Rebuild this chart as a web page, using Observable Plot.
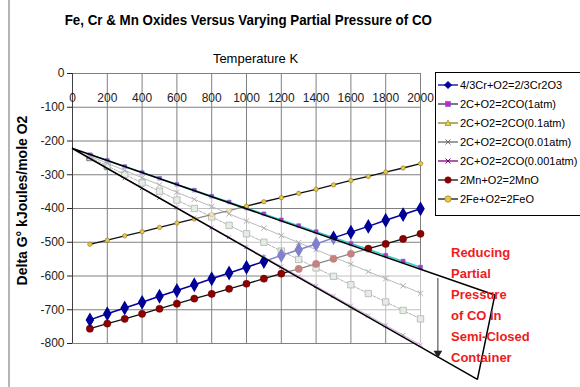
<!DOCTYPE html>
<html><head><meta charset="utf-8">
<script src="https://cdn.jsdelivr.net/npm/d3@7"></script>
<script src="https://cdn.jsdelivr.net/npm/@observablehq/plot@0.6"></script>
<style>
body{margin:0;background:#fff;font-family:"Liberation Sans",Arial,sans-serif;}
#wrap{position:relative;width:580px;height:387px;overflow:hidden;background:#fff;}
#border{position:absolute;left:8px;top:0;width:2px;height:387px;background:#b4b4b4;}
#title{position:absolute;left:0;top:11px;width:497px;text-align:center;font-weight:bold;font-size:15px;color:#000;white-space:nowrap;}
#title span{display:inline-block;transform:scaleX(0.89);}
#chart{position:absolute;left:0;top:0;}
#legend{position:absolute;left:435px;top:72px;width:170px;height:142px;border:1px solid #000;background:#fff;}
.li{position:absolute;left:2px;height:14px;font-size:11px;white-space:nowrap;color:#000;line-height:14px;}
.li svg{position:absolute;left:0;top:2px;}
.li span{position:absolute;left:22px;top:0;}
#note{position:absolute;left:451px;top:242px;color:#ee1c1c;font-weight:bold;font-size:13px;line-height:21px;}
</style>
</head><body>
<div id="wrap">
  <div id="border"></div>
  <div id="chart"></div>
  <div id="title"><span>Fe, Cr &amp; Mn Oxides Versus Varying Partial Pressure of CO</span></div>
  <div id="legend"></div>
  <div id="note">Reducing<br>Partial<br>Pressure<br>of CO In<br>Semi-Closed<br>Container</div>
</div>
<script>
// ---- data ----
const temps   = [100,200,300,400,500,600,700,800,900,1000,1100,1200,1300,1400,1500,1600,1700,1800,1900,2000];
const cr      = [-730,-712,-695,-678,-660,-643,-626,-608,-591,-574,-557,-539,-522,-505,-487,-470,-453,-435,-418,-401];
const co1     = [-241,-258,-276,-294,-311,-329,-346,-364,-381,-399,-416,-434,-451,-469,-486,-504,-521,-539,-556,-574];
const co01    = [-245,-266,-287,-309,-330,-352,-373,-394,-416,-437,-458,-480,-501,-522,-544,-565,-587,-608,-629,-651];
const co001   = [-249,-274,-299,-324,-349,-375,-400,-425,-450,-475,-500,-526,-551,-576,-601,-626,-652,-677,-702,-727];
const co0001  = [-252,-281,-310,-339,-368,-397,-427,-456,-485,-514,-543,-572,-601,-630,-659,-688,-717,-746,-775,-804];
const mn      = [-756,-741,-727,-712,-697,-682,-667,-653,-638,-623,-608,-593,-579,-564,-549,-534,-519,-505,-490,-475];
const fe      = [-506,-494,-481,-469,-456,-443,-431,-418,-406,-393,-380,-368,-355,-343,-330,-317,-305,-292,-280,-267];
const seriesNames = ["4/3Cr+O2=2/3Cr2O3","2C+O2=2CO(1atm)","2C+O2=2CO(0.1atm)","2C+O2=2CO(0.01atm)","2C+O2=2CO(0.001atm)","2Mn+O2=2MnO","2Fe+O2=2FeO"];
const xTicks = [0,200,400,600,800,1000,1200,1400,1600,1800,2000];
const yTicks = [0,-100,-200,-300,-400,-500,-600,-700,-800];
const xLabel = "Temperature K";
const yLabel = "Delta G° kJoules/mole O2";
// annotation: shaded wedge (apex, upper end, lower end) and arrow
const wedgeT1 = [0, 2430];
const wedgeG1 = [-223, -658];
const wedgeT2 = [0, 2330];
const wedgeG2 = [-223, -908];
const arrowT = [2100];
const arrowTop = [-606];
const arrowBottom = [-838];

const mk = vals => temps.map((t,i)=>({T:t,G:vals[i]}));
const sCr = mk(cr), s1 = mk(co1), s01 = mk(co01), s001 = mk(co001), s0001 = mk(co0001), sMn = mk(mn), sFe = mk(fe);
const wedge = wedgeT1.map((t,i)=>({x1:t,y1:wedgeG1[i],x2:wedgeT2[i],y2:wedgeG2[i]}));
const arrow = arrowT.map((t,i)=>({T:t,top:arrowTop[i],bottom:arrowBottom[i]}));

const chart = Plot.plot({
  width:580, height:387,
  marginLeft:72, marginRight:160, marginTop:73, marginBottom:44,
  style:{fontFamily:"'Liberation Sans', Arial, sans-serif", fontSize:"12px", background:"transparent", overflow:"visible"},
  x:{domain:[0,2000], label:null},
  y:{domain:[-800,0], label:null},
  marks:[
    Plot.gridY(yTicks,{stroke:"#808080", strokeOpacity:1}),
    Plot.gridX(xTicks,{stroke:"#808080", strokeOpacity:1}),
    Plot.ruleX([0],{stroke:"#404040"}),
    Plot.axisY(yTicks,{tickSize:5, tickPadding:3, fontSize:12, color:"#222", tickFormat:d=>String(d), label:null}),
    Plot.axisX(xTicks,{anchor:"top", tickSize:0, tickPadding:-28, fontSize:12, color:"#222", tickFormat:d=>String(d), label:null}),
    Plot.text([xLabel],{frameAnchor:"top", dy:-20, dx:9, fontSize:13, fill:"#000"}),
    Plot.text([yLabel],{frameAnchor:"left", textAnchor:"middle", rotate:-90, dx:-50, dy:-8, fontSize:14, fontWeight:"bold", fill:"#000"}),
    // 2C series
    Plot.line(s0001,{x:"T",y:"G",stroke:"#a050b0",strokeWidth:1}),
    Plot.dot(s0001,{x:"T",y:"G",symbol:"times",r:2,stroke:"#8040a0",strokeWidth:1}),
    Plot.line(s001,{x:"T",y:"G",stroke:"#555",strokeWidth:0.9,strokeDasharray:"3,1.5"}),
    Plot.dot(s001,{x:"T",y:"G",symbol:"square",r:3.6,fill:"#c4dcc4",stroke:"#666",strokeWidth:0.8}),
    Plot.line(s01,{x:"T",y:"G",stroke:"#666",strokeWidth:0.9}),
    Plot.dot(s01,{x:"T",y:"G",symbol:"times",r:2.6,stroke:"#555",strokeWidth:0.9}),
    Plot.line(s1,{x:"T",y:"G",stroke:"#33cccc",strokeWidth:1.6}),
    Plot.dot(s1,{x:"T",y:"G",symbol:"square",r:2.2,fill:"#c030c0",stroke:"#6060d0",strokeWidth:0.6}),
    // metals
    Plot.line(sFe,{x:"T",y:"G",stroke:"#111",strokeWidth:1.3}),
    Plot.dot(sFe,{x:"T",y:"G",r:2.2,fill:"#e8c84a",stroke:"#8a7420",strokeWidth:0.6}),
    Plot.line(sMn,{x:"T",y:"G",stroke:"#111",strokeWidth:1.3}),
    Plot.dot(sMn,{x:"T",y:"G",r:3.6,fill:"#8b0000",stroke:"#6a0000",strokeWidth:0.5}),
    Plot.line(sCr,{x:"T",y:"G",stroke:"#000099",strokeWidth:1.5}),
    Plot.dot(sCr,{x:"T",y:"G",symbol:"diamond",r:3.6,fill:"#000099",stroke:"#000099"}),
    // semi-transparent wedge drawn over the chart
    Plot.area(wedge,{x1:"x1",y1:"y1",x2:"x2",y2:"y2",fill:"#fff",fillOpacity:0.5,stroke:"#000",strokeWidth:1.5,strokeLinejoin:"miter"}),
    Plot.link(arrow,{x1:"T",x2:"T",y1:"top",y2:"bottom",stroke:"#333",strokeWidth:1}),
    Plot.dot(arrow,{x:"T",y:"bottom",symbol:"triangle",rotate:180,r:3.2,fill:"#222",stroke:"none",dy:-3})
  ]
});
document.getElementById("chart").appendChild(chart);

// legend
const legendStyle = [
  {line:"#000099", m:"diamond", fill:"#000099", stroke:"#000099"},
  {line:"#333", m:"square", fill:"#d020d0", stroke:"#6060d0"},
  {line:"#808020", m:"triangle", fill:"#e8d040", stroke:"#808020"},
  {line:"#666", m:"x", fill:"none", stroke:"#666"},
  {line:"#800080", m:"x", fill:"none", stroke:"#800080"},
  {line:"#111", m:"circle", fill:"#8b0000", stroke:"#8b0000"},
  {line:"#111", m:"circle", fill:"#e8c84a", stroke:"#8a7420"}
];
const lg = document.getElementById("legend");
seriesNames.forEach((name,i)=>{
  const s = legendStyle[i];
  let marker = "";
  if (s.m==="diamond") marker = `<polygon points="10,1.5 13.5,5 10,8.5 6.5,5" fill="${s.fill}" stroke="${s.stroke}"/>`;
  else if (s.m==="square") marker = `<rect x="7.5" y="2.5" width="5" height="5" fill="${s.fill}" stroke="${s.stroke}" stroke-width="0.6"/>`;
  else if (s.m==="triangle") marker = `<polygon points="10,2 13,7.5 7,7.5" fill="${s.fill}" stroke="${s.stroke}" stroke-width="0.6"/>`;
  else if (s.m==="x") marker = `<path d="M7.5,2.5L12.5,7.5M12.5,2.5L7.5,7.5" stroke="${s.stroke}" stroke-width="1"/>`;
  else marker = `<circle cx="10" cy="5" r="3.2" fill="${s.fill}" stroke="${s.stroke}" stroke-width="0.6"/>`;
  const d = document.createElement("div");
  d.className = "li";
  d.style.top = (5 + i*19) + "px";
  d.innerHTML = `<svg width="20" height="10"><line x1="0" y1="5" x2="20" y2="5" stroke="${s.line}" stroke-width="1.3"/>${marker}</svg><span>${name}</span>`;
  lg.appendChild(d);
});
</script>
</body></html>
